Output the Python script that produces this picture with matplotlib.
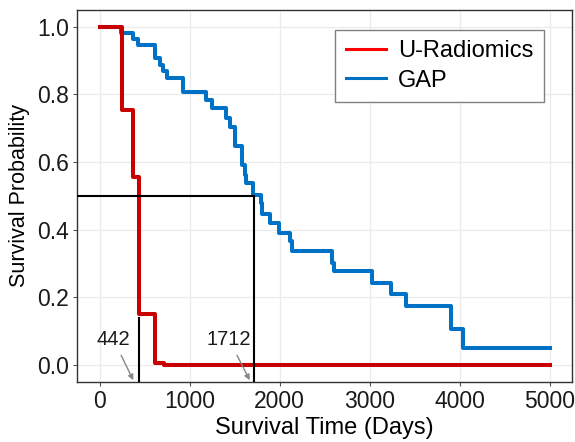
#
# Kaplan-Meier style survival curves: U-Radiomics vs GAP
#
import numpy as np
import matplotlib
matplotlib.use('Agg')
import matplotlib.pyplot as plt
from matplotlib.lines import Line2D

plt.rcParams['font.family'] = ['Liberation Sans', 'DejaVu Sans']

#
# Data
#
t_rad = [0, 250, 367, 433, 620, 720, 5000]
s_rad = [1.0, 0.755, 0.555, 0.15, 0.005, 0.0, 0.0]

t_gap = [0, 241, 370, 426, 611, 667, 703, 748, 926, 1178, 1248, 1407, 1444,
         1500, 1581, 1611, 1630, 1705, 1796, 1807, 1889, 1992, 2119, 2141,
         2581, 2600, 3030, 3233, 3400, 3907, 4037, 5000]
s_gap = [1.0, 0.982, 0.963, 0.947, 0.907, 0.888, 0.868, 0.848, 0.806, 0.784,
         0.759, 0.730, 0.703, 0.648, 0.592, 0.562, 0.537, 0.503, 0.478, 0.446,
         0.419, 0.391, 0.365, 0.338, 0.301, 0.278, 0.241, 0.209, 0.175, 0.107,
         0.051, 0.051]

median_rad = 442
median_gap = 1712
labels = ['U-Radiomics', 'GAP']

#
# Figure
#
fig = plt.figure(figsize=(5.75, 4.42), dpi=100)
ax = fig.add_axes([0.134, 0.136, 0.861, 0.842])

ax.grid(True, color='#ebebeb', lw=0.9, zorder=0)
ax.set_axisbelow(True)

ax.step(t_gap, s_gap, where='post', color='#0072C6', lw=2.9, zorder=2)
ax.step(t_rad, s_rad, where='post', color='#C80000', lw=2.9, zorder=3)

# median lines
ax.plot([-250, median_gap], [0.5, 0.5], color='black', lw=1.5, zorder=4)
ax.plot([median_gap, median_gap], [0.5, -0.05], color='black', lw=1.5, zorder=4)
ax.plot([median_rad, median_rad], [0.14, -0.05], color='black', lw=1.5, zorder=4)

# labels with small grey arrows pointing at the axis
for m, tx, tip in [(median_rad, 152, 375), (median_gap, 1436, 1668)]:
    ax.annotate(str(m), xy=(tip, -0.045), xytext=(tx, 0.076),
                ha='center', va='center', fontsize=14.5, color='#1a1a1a',
                arrowprops=dict(arrowstyle='-|>', color='#888888', lw=1.0,
                                shrinkA=3, shrinkB=0, mutation_scale=8))

ax.set_xlim(-250, 5250)
ax.set_ylim(-0.05, 1.05)
ax.set_xticks([0, 1000, 2000, 3000, 4000, 5000])
ax.set_yticks([0.0, 0.2, 0.4, 0.6, 0.8, 1.0])
ax.set_yticklabels(['0.0', '0.2', '0.4', '0.6', '0.8', '1.0'])
ax.tick_params(labelsize=16.5, length=3, pad=3, color='#555555',
               labelcolor='#1a1a1a')
for sp in ax.spines.values():
    sp.set_color('#333333')
    sp.set_linewidth(1.0)

ax.set_xlabel('Survival Time (Days)', fontsize=17, labelpad=3)
ax.set_ylabel('Survival Probability', fontsize=15.5, labelpad=5)

handles = [Line2D([], [], color='#FF0000', lw=2.2),
           Line2D([], [], color='#0070C0', lw=2.2)]
leg = ax.legend(handles, labels, loc='upper right',
                bbox_to_anchor=(0.943, 0.946), borderaxespad=0, fontsize=17,
                fancybox=False, framealpha=1, edgecolor='#808080',
                handlelength=1.7, handletextpad=0.5, borderpad=0.45,
                labelspacing=0.3)
leg.get_frame().set_linewidth(1.0)

fig.savefig('out.png', dpi=100)
